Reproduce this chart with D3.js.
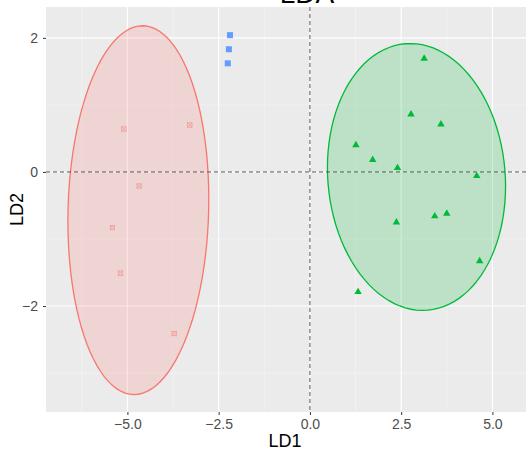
<!DOCTYPE html>
<html><head><meta charset="utf-8">
<script src="https://cdn.jsdelivr.net/npm/d3@7"></script>
<style>body{margin:0;background:#fff}svg{display:block}</style>
</head><body>
<script>
// Data
const groupNames = ["A", "B", "C"];
const groupColors = ["#F8766D", "#619CFF", "#00BA38"];
const redX = [-5.10, -3.29, -4.68, -5.41, -5.19, -3.72];
const redY = [0.64, 0.70, -0.21, -0.83, -1.51, -2.41];
const blueX = [-2.19, -2.22, -2.25];
const blueY = [2.04, 1.83, 1.62];
const greenX = [3.13, 2.77, 3.59, 1.26, 1.72, 2.40, 4.57, 2.37, 3.42, 3.75, 4.65, 1.32];
const greenY = [1.69, 0.86, 0.71, 0.40, 0.18, 0.06, -0.06, -0.75, -0.66, -0.62, -1.33, -1.79];
// ellipses: center x, center y, half-extent x, half-extent y, coupling (cos delta)
const ellipseGroups = ["A", "C"];
const ellCX = [-4.70, 2.92];
const ellCY = [-0.57, -0.075];
const ellRX = [1.93, 2.44];
const ellRY = [2.75, 1.99];
const ellK = [0.06, -0.07];
const xTicks = [-5.0, -2.5, 0.0, 2.5, 5.0];
const yTicks = [-2, 0, 2];
const xMinor = [-6.25, -3.75, -1.25, 1.25, 3.75];
const yMinor = [-3, -1, 1];

const W = 526, H = 455;
const m = {left: 46, right: 0, top: 7, bottom: 43};
const svg = d3.select("body").append("svg").attr("width", W).attr("height", H);
const x = d3.scaleLinear().domain([-7.23, 5.92]).range([m.left, W - m.right]);
const y = d3.scaleLinear().domain([-3.58, 2.46]).range([H - m.bottom, m.top]);

// panel
svg.append("rect").attr("x", m.left).attr("y", m.top)
  .attr("width", W - m.right - m.left).attr("height", H - m.bottom - m.top).attr("fill", "#EBEBEB");
const g = svg.append("g");
g.selectAll(".xm").data(xMinor).join("line").attr("x1", d => x(d)).attr("x2", d => x(d))
  .attr("y1", m.top).attr("y2", H - m.bottom).attr("stroke", "#F5F5F5").attr("stroke-width", 0.6);
g.selectAll(".ym").data(yMinor).join("line").attr("y1", d => y(d)).attr("y2", d => y(d))
  .attr("x1", m.left).attr("x2", W - m.right).attr("stroke", "#F5F5F5").attr("stroke-width", 0.6);
g.selectAll(".xM").data(xTicks).join("line").attr("x1", d => x(d)).attr("x2", d => x(d))
  .attr("y1", m.top).attr("y2", H - m.bottom).attr("stroke", "#fff").attr("stroke-width", 1.1);
g.selectAll(".yM").data(yTicks).join("line").attr("y1", d => y(d)).attr("y2", d => y(d))
  .attr("x1", m.left).attr("x2", W - m.right).attr("stroke", "#fff").attr("stroke-width", 1.1);

// ellipses
const pts = [];
ellipseGroups.forEach((gname, i) => {
  const delta = Math.acos(ellK[i]);
  const p = d3.range(0, 101).map(j => {
    const t = j / 100 * 2 * Math.PI;
    return [x(ellCX[i] + ellRX[i] * Math.cos(t)), y(ellCY[i] + ellRY[i] * Math.cos(t + delta))];
  });
  const col = groupColors[groupNames.indexOf(gname)];
  svg.append("path").attr("d", d3.line()(p) + "Z")
    .attr("fill", col).attr("fill-opacity", 0.2).attr("stroke", col).attr("stroke-width", 1.3);
});

// dashed reference lines
svg.append("line").attr("x1", x(0)).attr("x2", x(0)).attr("y1", m.top).attr("y2", H - m.bottom)
  .attr("stroke", "#444").attr("stroke-width", 0.9).attr("stroke-dasharray", "4,3");
svg.append("line").attr("y1", y(0)).attr("y2", y(0)).attr("x1", m.left).attr("x2", W - m.right)
  .attr("stroke", "#444").attr("stroke-width", 0.9).attr("stroke-dasharray", "4,3");

// points
const red = redX.map((v, i) => [v, redY[i]]);
const blue = blueX.map((v, i) => [v, blueY[i]]);
const green = greenX.map((v, i) => [v, greenY[i]]);
const rg = svg.append("g");
red.forEach(d => {
  const cx = x(d[0]), cy = y(d[1]), s = 2.2;
  rg.append("rect").attr("x", cx - s).attr("y", cy - s).attr("width", 2 * s).attr("height", 2 * s)
    .attr("fill", "none").attr("stroke", "#F08A84").attr("stroke-width", 0.7).attr("opacity", 0.8);
  rg.append("path").attr("d", `M${cx - s},${cy - s}L${cx + s},${cy + s}M${cx - s},${cy + s}L${cx + s},${cy - s}`)
    .attr("stroke", "#F08A84").attr("stroke-width", 0.7).attr("opacity", 0.8);
});
svg.selectAll(".bp").data(blue).join("rect")
  .attr("x", d => x(d[0]) - 3).attr("y", d => y(d[1]) - 3).attr("width", 6).attr("height", 6)
  .attr("fill", groupColors[1]);
svg.selectAll(".gp").data(green).join("path")
  .attr("d", d3.symbol().type(d3.symbolTriangle).size(24))
  .attr("transform", d => `translate(${x(d[0])},${y(d[1])})`)
  .attr("fill", groupColors[2]);

// axes
const xa = svg.append("g").attr("transform", `translate(0,${H - m.bottom})`)
  .call(d3.axisBottom(x).tickValues(xTicks).tickFormat(d3.format(".1f")).tickSize(3).tickPadding(4));
const ya = svg.append("g").attr("transform", `translate(${m.left},0)`)
  .call(d3.axisLeft(y).tickValues(yTicks).tickSize(3).tickPadding(5));
[xa, ya].forEach(a => {
  a.select(".domain").remove();
  a.selectAll(".tick line").attr("stroke", "#333");
  a.selectAll("text").attr("fill", "#4D4D4D").attr("font-size", 14)
    .attr("font-family", "Liberation Sans, Arial, sans-serif");
});
xa.selectAll("text").text(d => d3.format(".1f")(d).replace("-", "\u2212"));
ya.selectAll("text").text(d => String(d).replace("-", "\u2212"));

svg.append("text").attr("x", 285).attr("y", 447).attr("text-anchor", "middle")
  .attr("font-size", 18).attr("font-family", "Liberation Sans, Arial, sans-serif").text("LD1");
svg.append("text").attr("transform", `translate(23,${(m.top + H - m.bottom) / 2}) rotate(-90)`)
  .attr("text-anchor", "middle").attr("font-size", 18)
  .attr("font-family", "Liberation Sans, Arial, sans-serif").text("LD2");
svg.append("text").attr("x", 307).attr("y", 3).attr("text-anchor", "middle")
  .attr("font-size", 28).attr("font-family", "Liberation Sans, Arial, sans-serif").text("LDA");
</script>
</body></html>
